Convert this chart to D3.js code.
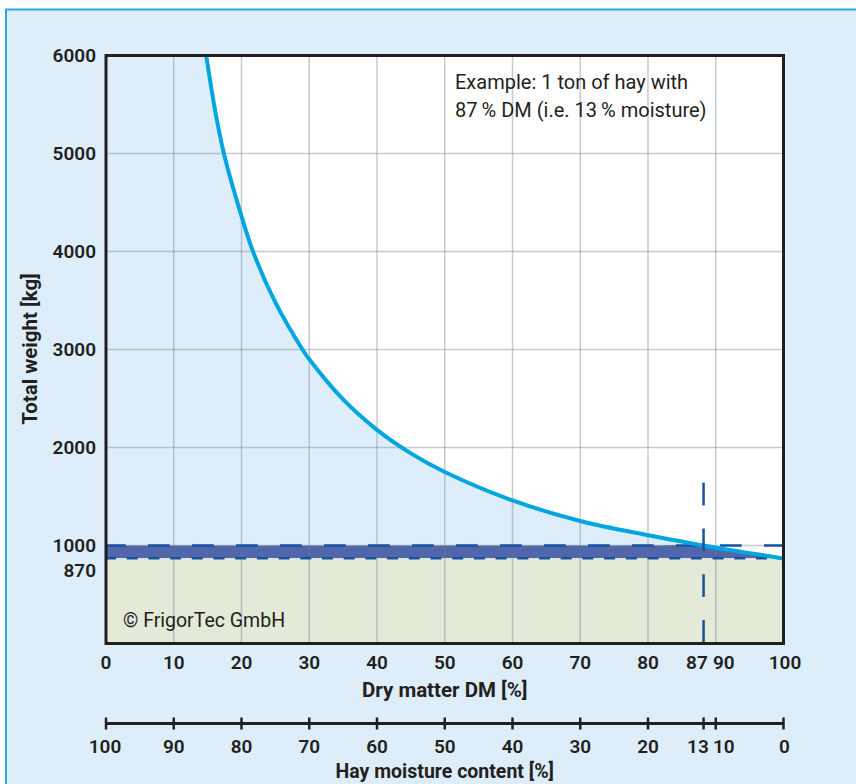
<!DOCTYPE html>
<html><head><meta charset="utf-8">
<script src="https://cdn.jsdelivr.net/npm/d3@7"></script>
<style>
html,body{margin:0;padding:0;background:#fff;}
svg{display:block;}
text{font-family:Roboto,"Noto Sans",sans-serif;fill:#231f20;}
</style></head>
<body>
<svg id="chart" width="856" height="784"></svg>
<script>
// ---- data ----
const curveDM = [14.8, 16, 17.4, 20, 21.7, 25, 29, 30, 35, 40, 45, 50, 60, 70, 80, 88.2, 90, 100];
const curveKg = [6000, 5480, 5000, 4360, 4000, 3480, 3000, 2900, 2490, 2180, 1940, 1750, 1460, 1250, 1105, 1000, 978, 868];
const dmTicks = [0, 10, 20, 30, 40, 50, 60, 70, 80, 87, 90, 100];
const weightTicks = [870, 1000, 2000, 3000, 4000, 5000, 6000];
const gridDM = [10, 20, 30, 40, 50, 60, 70, 80, 90];
const gridKg = [1000, 2000, 3000, 4000, 5000];
const moistureTicks = [100, 90, 80, 70, 60, 50, 40, 30, 20, 13, 10, 0];
const exampleTotal = 1000;   // 1 ton of hay
const exampleDry = 870;      // dry matter of that ton
const exampleLineDM = 88.2;  // where the marker is drawn in the picture
const exampleLineTopKg = 1640;
const exampleText = ["Example: 1 ton of hay with", "87\u2009% DM (i.e. 13\u2009% moisture)"];
const copyright = "\u00A9 FrigorTec GmbH";

const svg = d3.select("#chart");
const W = 856, H = 784;

// panel
svg.append("rect").attr("x", 6).attr("y", 9.5).attr("width", W).attr("height", H)
  .attr("fill", "#ddeefa").attr("stroke", "#29abe2").attr("stroke-width", 2);

const x = d3.scaleLinear().domain([0, 100]).range([106, 783.5]);
const y = d3.scaleLinear().domain([0, 6000]).range([643.5, 55.5]);
const xm = d3.scaleLinear().domain([100, 0]).range([106, 783.5]);

const pts = curveDM.map((d, i) => [d, curveKg[i]]);

// clip to plot
svg.append("clipPath").attr("id", "plot").append("rect")
  .attr("x", x(0)).attr("y", y(6000)).attr("width", x(100) - x(0)).attr("height", y(0) - y(6000));
const g = svg.append("g").attr("clip-path", "url(#plot)");

// white background above curve
g.append("rect").attr("x", x(0)).attr("y", y(6000)).attr("width", x(100) - x(0)).attr("height", y(0) - y(6000)).attr("fill", "#ffffff");

const crv = d3.curveCatmullRom.alpha(0.5);
// light blue under curve
g.append("rect").attr("x", x(0)).attr("y", y(6000)).attr("width", x(curveDM[0]) - x(0) + 0.5).attr("height", y(0) - y(6000)).attr("fill", "#ddeefa");
g.append("path").datum(pts)
  .attr("fill", "#ddeefa")
  .attr("d", d3.area().curve(crv).x(d => x(d[0])).y0(y(0)).y1(d => y(d[1])));
// dark band between 870 and min(curve,1000)
g.append("rect").attr("x", x(0)).attr("y", y(exampleTotal)).attr("width", x(curveDM[0]) - x(0) + 0.5)
  .attr("height", y(exampleDry) - y(exampleTotal)).attr("fill", "#5068ab");
g.append("path").datum(pts)
  .attr("fill", "#5068ab")
  .attr("d", d3.area().curve(crv).x(d => x(d[0])).y0(y(exampleDry)).y1(d => y(Math.min(d[1], exampleTotal))));
// green below 870
g.append("rect").attr("x", x(0)).attr("y", y(exampleDry)).attr("width", x(100) - x(0)).attr("height", y(0) - y(exampleDry))
  .attr("fill", "#e3ead8");

// grid
g.selectAll(".gx").data(gridDM).join("line")
  .attr("x1", d => x(d)).attr("x2", d => x(d)).attr("y1", y(0)).attr("y2", y(6000))
  .attr("stroke", "#6f777d").attr("stroke-opacity", 0.38).attr("stroke-width", 1.5);
g.selectAll(".gy").data(gridKg).join("line")
  .attr("y1", d => y(d)).attr("y2", d => y(d)).attr("x1", x(0)).attr("x2", x(100))
  .attr("stroke", "#6f777d").attr("stroke-opacity", 0.38).attr("stroke-width", 1.5);

// dashed lines
g.append("line").attr("x1", x(0) - 2).attr("x2", x(100)).attr("y1", y(exampleTotal)).attr("y2", y(exampleTotal))
  .attr("stroke", "#1a52a0").attr("stroke-width", 2.5).attr("stroke-dasharray", "21.7,22.3");
g.append("line").attr("x1", x(0) - 1).attr("x2", x(100)).attr("y1", y(exampleDry)).attr("y2", y(exampleDry))
  .attr("stroke", "#1a52a0").attr("stroke-width", 2.5).attr("stroke-dasharray", "11,10.7");

// curve
g.append("path").datum(pts).attr("fill", "none").attr("stroke", "#00a6e0").attr("stroke-width", 4)
  .attr("d", d3.line().curve(crv).x(d => x(d[0])).y(d => y(d[1])));

// vertical marker
g.append("line").attr("x1", x(exampleLineDM)).attr("x2", x(exampleLineDM))
  .attr("y1", y(exampleLineTopKg)).attr("y2", y(0))
  .attr("stroke", "#1a52a0").attr("stroke-width", 2.5).attr("stroke-dasharray", "22.7,23");

// plot frame
svg.append("rect").attr("x", x(0)).attr("y", y(6000)).attr("width", x(100) - x(0)).attr("height", y(0) - y(6000))
  .attr("fill", "none").attr("stroke", "#231f20").attr("stroke-width", 3);

const tickFont = 19, tickWeight = 600;
// y tick labels
const yNudge = {870: 12};
svg.selectAll(".yl").data(weightTicks).join("text")
  .attr("x", 96).attr("y", d => y(d) + (yNudge[d] || 0)).attr("dy", "0.35em")
  .attr("text-anchor", "end").attr("font-size", tickFont).attr("font-weight", tickWeight)
  .text(d => d);

// x tick labels (DM)
const xNudge = {87: 1.5, 90: 8, 100: 1.5};
svg.selectAll(".xl").data(dmTicks).join("text")
  .attr("x", d => x(d) + (xNudge[d] || 0)).attr("y", 669)
  .attr("text-anchor", "middle").attr("font-size", tickFont).attr("font-weight", tickWeight)
  .text(d => d);

svg.append("text").attr("x", x(50)).attr("y", 697).attr("text-anchor", "middle")
  .attr("font-size", 20.5).attr("font-weight", 700).text("Dry matter DM [%]");

// moisture axis
const ay = 723.5;
svg.append("line").attr("x1", xm(100)).attr("x2", xm(0)).attr("y1", ay).attr("y2", ay)
  .attr("stroke", "#231f20").attr("stroke-width", 3);
const tickPos = m => m === 13 ? x(exampleLineDM) : xm(m);
svg.selectAll(".mt").data(moistureTicks).join("line")
  .attr("x1", d => tickPos(d)).attr("x2", d => tickPos(d)).attr("y1", ay - 6).attr("y2", ay + 6)
  .attr("stroke", "#231f20").attr("stroke-width", 2.5);
const mNudge = {13: 2.5, 10: 8, 0: 1, 100: -1};
svg.selectAll(".ml").data(moistureTicks).join("text")
  .attr("x", d => xm(d) + (mNudge[d] || 0)).attr("y", 752.5)
  .attr("text-anchor", "middle").attr("font-size", tickFont).attr("font-weight", tickWeight)
  .text(d => d);
svg.append("text").attr("x", x(50)).attr("y", 777.5).attr("text-anchor", "middle")
  .attr("font-size", 19.5).attr("font-weight", 700).text("Hay moisture content [%]");

// y title
svg.append("text").attr("transform", "translate(37,349) rotate(-90)").attr("text-anchor", "middle")
  .attr("font-size", 20.5).attr("font-weight", 700).text("Total weight [kg]");

// annotations
svg.selectAll(".ex").data(exampleText).join("text")
  .attr("x", 455).attr("y", (d, i) => 88.5 + i * 28)
  .attr("font-size", 20).attr("font-weight", 400).text(d => d);
svg.append("text").attr("x", 123).attr("y", 627).attr("font-size", 19.5).attr("font-weight", 400).text(copyright);
</script>
</body></html>
